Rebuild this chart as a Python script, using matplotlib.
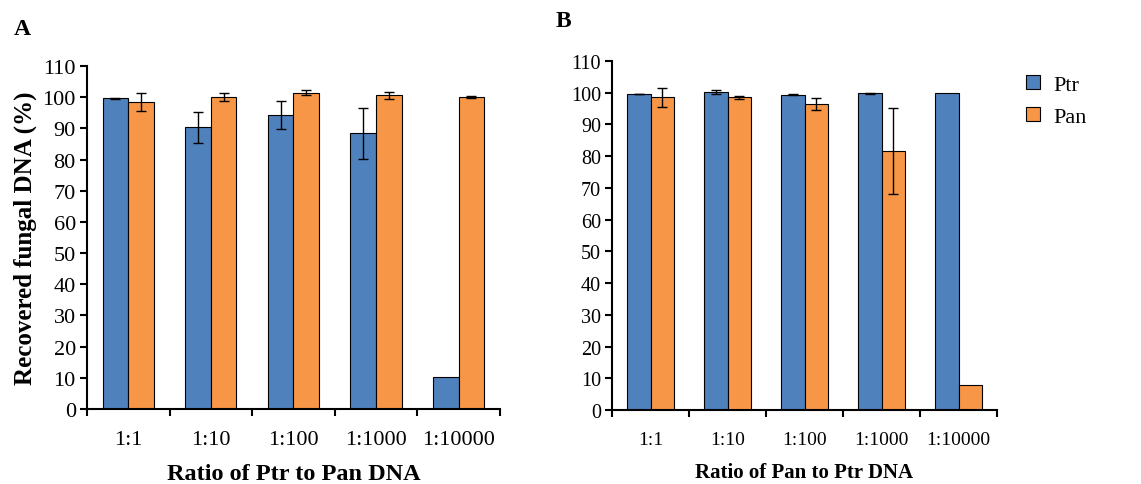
"""
Recovered fungal DNA from mixed Ptr / Pan samples, two dilution series.
Output: out.png
"""

import numpy as np
import matplotlib.pyplot as plt
from matplotlib.patches import Patch

RATIOS = ["1:1", "1:10", "1:100", "1:1000", "1:10000"]

# panel A: Ptr diluted into Pan (nan = no error bar drawn)
A_PTR = [99.6, 90.4, 94.3, 88.4, 10.4]
A_PTR_ERR = [0.1, 5.0, 4.4, 8.2, np.nan]
A_PAN = [98.4, 100.0, 101.5, 100.6, 100.1]
A_PAN_ERR = [2.8, 1.2, 0.7, 1.2, 0.3]

# panel B: Pan diluted into Ptr
B_PTR = [99.6, 100.1, 99.4, 99.8, 100.0]
B_PTR_ERR = [0.1, 0.6, 0.2, 0.2, np.nan]
B_PAN = [98.5, 98.5, 96.5, 81.6, 7.8]
B_PAN_ERR = [2.9, 0.6, 1.8, 13.5, np.nan]

BLUE = "#4F81BD"
ORANGE = "#F79646"

plt.rcParams["font.family"] = ["Liberation Serif", "DejaVu Serif"]


def draw_panel(ax, ptr, ptr_err, pan, pan_err, xlabel, tick_size, xt_size, label_size):
    x = np.arange(len(RATIOS))
    w = 0.31
    err_kw = dict(ecolor="black", elinewidth=1.0, capsize=3.5, capthick=1.0)
    ax.bar(x - w / 2, ptr, w, yerr=ptr_err, color=BLUE, edgecolor="black",
           linewidth=0.8, error_kw=err_kw)
    ax.bar(x + w / 2, pan, w, yerr=pan_err, color=ORANGE, edgecolor="black",
           linewidth=0.8, error_kw=err_kw)

    ax.set_xlim(-0.5, len(RATIOS) - 0.5)
    ax.set_ylim(0, 110)
    ax.set_yticks(np.arange(0, 111, 10))

    ax.set_xticks(x)
    ax.set_xticklabels(RATIOS, fontsize=xt_size)
    ax.set_xticks(np.arange(-0.5, len(RATIOS)), minor=True)
    ax.tick_params(axis="x", which="major", length=0, pad=15)
    ax.tick_params(axis="x", which="minor", length=5, width=1.5, direction="out")
    ax.tick_params(axis="y", length=5, width=1.5, labelsize=tick_size, pad=3)

    for side in ["top", "right"]:
        ax.spines[side].set_visible(False)
    for side in ["left", "bottom"]:
        ax.spines[side].set_linewidth(1.5)

    ax.set_xlabel(xlabel, fontsize=label_size, fontweight="bold", labelpad=10)


fig = plt.figure(figsize=(11.41, 4.85), dpi=100)

ax_a = fig.add_axes([0.0762, 0.1546, 0.362, 0.7072])
draw_panel(ax_a, A_PTR, A_PTR_ERR, A_PAN, A_PAN_ERR, "Ratio of Ptr to Pan DNA",
           16, 16, 17.5)
ax_a.set_ylabel("Recovered fungal DNA (%)", fontsize=18, fontweight="bold", labelpad=4)

ax_b = fig.add_axes([0.5364, 0.1526, 0.3374, 0.7196])
draw_panel(ax_b, B_PTR, B_PTR_ERR, B_PAN, B_PAN_ERR, "Ratio of Pan to Ptr DNA",
           14.5, 14, 15)

handles = [Patch(facecolor=BLUE, edgecolor="black", linewidth=0.8, label="Ptr"),
           Patch(facecolor=ORANGE, edgecolor="black", linewidth=0.8, label="Pan")]
fig.legend(handles=handles, loc="upper left", bbox_to_anchor=(0.882, 0.885),
           frameon=False, fontsize=16, handlelength=0.6, handleheight=0.6,
           handletextpad=0.6, labelspacing=0.55)

fig.text(0.012, 0.94, "A", fontsize=17, fontweight="bold", va="center")
fig.text(0.487, 0.955, "B", fontsize=17, fontweight="bold", va="center")

fig.savefig("out.png", dpi=100)
